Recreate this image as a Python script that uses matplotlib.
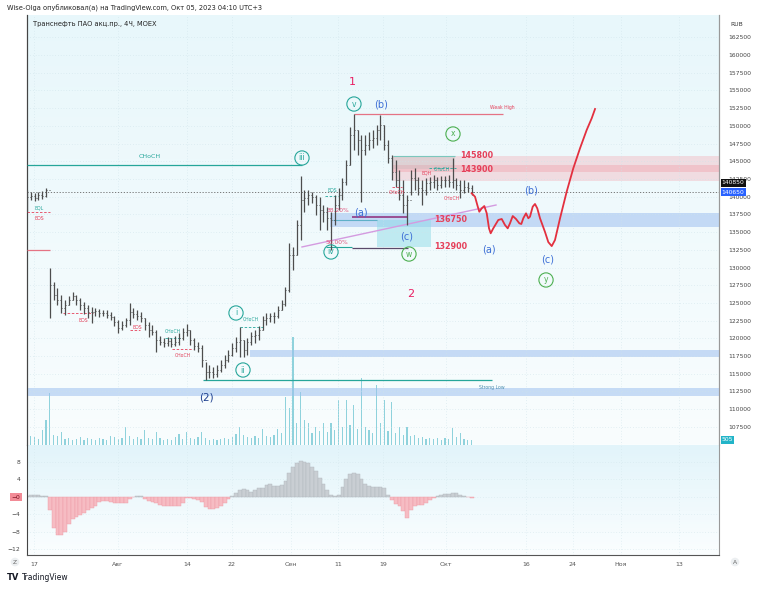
import numpy as np
import matplotlib.pyplot as plt
from matplotlib.patches import Rectangle
from matplotlib.colors import LinearSegmentedColormap
from matplotlib.transforms import blended_transform_factory

header = "Wise-Olga опубликовал(а) на TradingView.com, Окт 05, 2023 04:10 UTC+3"
symbol = "Транснефть ПАО акц.пр., 4Ч, MOEX"

# 4H bars, x in trading days from Jul 17
bar_start = -0.92
bar_step = 0.5
highs = [140940, 140660, 140520, 140660, 140800, 141220, 129930, 127950, 127110, 126120,
         125410, 125980, 126540, 126120, 125700, 125130, 124710, 124420, 124280, 124140,
         124000, 124000, 123720, 123150, 122590, 122450, 122870, 124990, 124280, 124000,
         123720, 122870, 122310, 121880, 121180, 120330, 120050, 120190, 120050, 120330,
         120750, 121460, 122030, 121180, 120050, 119480, 119060, 116660, 116240, 115960,
         116240, 116940, 117650, 118360, 119340, 120190, 121600, 119770, 120050, 120900,
         121180, 121740, 123150, 123580, 123580, 123720, 124570, 125410, 127250, 133460,
         132900, 136710, 142920, 140940, 140940, 140660, 140240, 139950, 138820, 138540,
         137840, 140240, 141220, 142640, 145180, 149840, 151670, 149410, 148710, 148710,
         149130, 149410, 150120, 151530, 150120, 148000, 145880, 145180, 143770, 142350,
         140240, 143770, 144050, 142780, 142350, 142640, 142780, 143060, 142780, 142920,
         142920, 143060, 145460, 142640, 142350, 142350, 142070, 141650]
lows = [137840, 139530, 139390, 139530, 139670, 139950, 122870, 125410, 124710, 123580,
        123300, 124710, 125410, 124710, 124000, 123440, 122870, 122170, 123150, 123010,
        123150, 122870, 122590, 121740, 120750, 121180, 121600, 121880, 122870, 122590,
        122310, 121180, 120190, 120470, 118070, 119060, 118780, 118920, 118780, 118920,
        119060, 119770, 120330, 119060, 118360, 118070, 115960, 114120, 114400, 114400,
        114540, 115250, 115810, 116660, 117510, 118070, 117370, 117370, 117650, 119060,
        119340, 119770, 121180, 121880, 122310, 122170, 122870, 124000, 124570, 126540,
        129650, 131770, 133880, 137840, 138820, 139110, 137410, 135300, 136420, 135300,
        132470, 136000, 138120, 139530, 141650, 144470, 146590, 145880, 139250, 145880,
        146590, 146870, 147300, 148000, 146590, 144750, 142350, 141370, 139530, 137700,
        136000, 140240, 140940, 140240, 138820, 140240, 140940, 141220, 140940, 141220,
        141370, 141370, 141220, 140940, 139810, 140520, 140660, 140240]
closes = [139950, 140090, 139810, 140240, 140090, 140940, 127530, 126120, 125410, 124280,
          124710, 125410, 125980, 125410, 124710, 124280, 123720, 123720, 123860, 123580,
          123580, 123300, 123010, 122310, 121460, 121880, 122590, 123720, 123440, 123150,
          122870, 121880, 121180, 120900, 119770, 119480, 119340, 119630, 119200, 119480,
          120050, 120900, 121180, 119770, 118920, 118640, 116940, 115250, 115250, 114970,
          115530, 116240, 116940, 117650, 118640, 119480, 119770, 118360, 119480, 120330,
          120470, 121180, 122590, 122870, 123150, 123150, 124000, 124850, 126830, 131770,
          131770, 136000, 139530, 139810, 140240, 139950, 138820, 138120, 137840, 136990,
          136710, 138820, 140240, 142070, 144470, 148710, 149410, 148000, 146590, 147300,
          148000, 148280, 149410, 150120, 147300, 145460, 143480, 142350, 140240, 138820,
          139530, 142640, 142350, 141220, 140940, 141930, 142070, 142350, 141650, 142350,
          142350, 142070, 142350, 141650, 140940, 141370, 141220, 140650]
volumes = [1300, 900, 800, 600, 1500, 2500, 5200, 1000, 900, 1300,
           600, 700, 500, 600, 800, 500, 700, 600, 500, 700,
           600, 500, 900, 800, 600, 700, 1800, 900, 600, 800,
           600, 1500, 700, 600, 1300, 700, 500, 600, 500, 800,
           1100, 600, 1300, 700, 600, 800, 1300, 700, 500, 600,
           500, 600, 700, 600, 800, 1100, 1800, 1000, 800, 700,
           900, 700, 1600, 900, 800, 1000, 1600, 1200, 4800, 3700,
           10800, 2200, 5300, 2500, 2200, 1200, 1800, 1400, 2200, 1300,
           2200, 1500, 4500, 1800, 4500, 2000, 4000, 1600, 6700, 1800,
           1500, 1200, 6000, 2200, 4500, 1400, 4300, 1200, 1800, 1000,
           1800, 900, 1000, 700, 800, 600, 700, 600, 700, 500,
           700, 600, 1700, 800, 1200, 600, 500, 505]
osc = [0.2, 0.3, 0.4, 0.3, 0.2, 0.1, -3.0, -7.0, -8.8, -8.8,
       -8.0, -6.2, -5.0, -4.5, -4.1, -3.7, -3.1, -2.6, -2.0, -1.2,
       -1.0, -1.0, -1.1, -1.4, -1.5, -1.5, -1.4, -0.6, -0.1, 0.1,
       0.1, -0.5, -1.0, -1.2, -1.3, -1.8, -2.2, -2.2, -2.2, -2.1,
       -2.0, -1.5, -0.3, -0.3, -0.6, -0.8, -1.2, -2.4, -2.8, -2.7,
       -2.5, -2.1, -1.3, -0.5, 0.2, 0.9, 1.5, 1.7, 1.5, 1.0,
       1.6, 2.0, 2.0, 2.8, 2.9, 2.5, 2.4, 2.8, 3.6, 5.5,
       6.8, 7.8, 8.1, 8.0, 7.6, 6.9, 5.8, 4.3, 3.0, 1.5,
       0.3, 0.1, 0.5, 2.3, 4.0, 5.2, 5.5, 5.1, 4.0, 2.9,
       2.4, 2.3, 2.3, 2.2, 2.0, 0.3, -0.8, -1.6, -2.2, -3.2,
       -4.8, -3.0, -2.0, -1.9, -1.9, -1.5, -0.8, -0.3, 0.1, 0.4,
       0.6, 0.7, 0.8, 0.8, 0.5, 0.1, -0.1, -0.2]

# projected wave path
path_x = [57.59, 58.03, 58.33, 58.59, 58.91, 59.25, 59.57, 59.87, 60.09, 60.43,
          61.09, 61.54, 61.97, 62.33, 62.63, 62.99, 63.42, 63.86, 64.12, 64.38,
          64.74, 65.04, 65.26, 65.62, 65.92, 66.22, 66.58, 67.24, 67.67, 68.12,
          68.55, 69.21, 70.09, 70.96, 71.84, 72.72, 73.38, 73.82]
path_p = [140470, 139990, 138820, 137870, 138350, 138680, 137650, 135530, 134830, 135530,
          136710, 136850, 136000, 135530, 136240, 137270, 136850, 136240, 136140, 136950,
          137650, 136950, 137170, 138590, 138970, 138350, 136950, 135010, 133590, 133020,
          133880, 136930, 140710, 144010, 146820, 149410, 151060, 152380]

xtick_pos = [0.0, 11.05, 20.13, 26.05, 33.82, 40.0, 45.92, 54.21, 64.74, 70.92, 77.24, 84.87]
xtick_labels = ["17", "Авг", "14", "22", "Сен", "11", "19", "Окт", "16", "24", "Ноя", "13"]

last_price = 140650
x_left, x_right = -0.92, 90.13
p_low, p_high = 104943, 165646

TEAL = "#26a69a"
GREEN = "#4caf50"
BLUE = "#3d6fd6"
PINK = "#e91e63"
RED = "#e5405a"

W, H = 758, 590


def frac(x0, y0, x1, y1):
    return [x0 / W, 1 - y1 / H, (x1 - x0) / W, (y1 - y0) / H]


def gradient(axis, top, bottom):
    cmap = LinearSegmentedColormap.from_list("bg", [bottom, top])
    grad = np.linspace(0, 1, 256).reshape(-1, 1)
    axis.imshow(grad, extent=[0, 1, 0, 1], transform=axis.transAxes, cmap=cmap,
                aspect="auto", origin="lower", zorder=0)


fig = plt.figure(figsize=(7.58, 5.90), dpi=100)
fig.patch.set_facecolor("white")

ax = fig.add_axes(frac(27, 15, 719, 445))
vax = ax.twinx()
osc_ax = fig.add_axes(frac(27, 445, 719, 555), sharex=ax)

ax.set_zorder(vax.get_zorder() + 1)
ax.patch.set_visible(False)
gradient(vax, "#e8f7fb", "#f9fdfe")
gradient(osc_ax, "#e2f4fa", "#fbfeff")

t = bar_start + bar_step * np.arange(len(closes))
opens = [closes[0]] + closes[:-1]

# volume
vax.bar(t, volumes, width=0.16, color="#8fd2dc", zorder=2)
vax.set_ylim(0, 43000)
vax.set_yticks([])


def zone(x0, x1, lo, hi, color, alpha, z=1):
    ax.add_patch(Rectangle((x0, lo), x1 - x0, hi - lo, facecolor=color, edgecolor="none",
                           alpha=alpha, zorder=z))


zone(47.2, x_right, 142250, 145800, "#f4a7b0", 0.35)
zone(47.2, x_right, 143500, 144450, "#f08a98", 0.3)
zone(47.2, 55.4, 143900, 145800, "#b8b8b8", 0.3)
zone(38.9, x_right, 135720, 137700, "#9ec0f0", 0.55)
zone(45.1, 52.2, 132900, 136710, "#8fdbe8", 0.5)
zone(28.4, x_right, 117370, 118360, "#9ec0f0", 0.55)
zone(x_left, x_right, 111900, 113030, "#9ec0f0", 0.55)

# horizontal levels
ax.hlines(144470, x_left, 35.26, color=TEAL, lw=0.9, zorder=3)
ax.hlines(151670, 42.1, 61.7, color="#e57384", lw=0.9, zorder=3)
ax.hlines(114120, 22.2, 60.3, color=TEAL, lw=0.9, zorder=3)
ax.hlines(132470, x_left, 2.1, color="#e57384", lw=0.9, zorder=3)
ax.hlines(145800, 47.2, 55.4, color="#7cc7bd", lw=0.8, zorder=3)
ax.hlines(136710, 39.3, 45.1, color="#5fb0c8", lw=0.8, zorder=3)
ax.hlines(132900, 38.4, 41.9, color=TEAL, lw=0.8, zorder=3)
ax.hlines(137130, 41.9, 49.2, color="#8e2a78", lw=1.1, zorder=3)
ax.hlines(132755, 41.9, 49.2, color="#5a4a6a", lw=0.9, zorder=3)
ax.plot([35.26, 60.79], [132900, 138820], color="#d49be0", lw=1.0, zorder=3)
ax.axhline(last_price, color="#666", lw=0.6, ls=(0, (1.5, 2)), zorder=3)

dashed = [(-0.92, 2.1, 137840, RED), (3.82, 7.76, 123580, RED), (12.6, 13.9, 121180, RED),
          (17.24, 19.2, 120050, TEAL), (18.2, 20.9, 118500, RED), (27.1, 30.13, 121600, TEAL),
          (38.3, 40.0, 140100, TEAL), (47.1, 48.4, 141360, RED), (52.0, 55.5, 144050, TEAL)]
for x0, x1, p, c in dashed:
    ax.hlines(p, x0, x1, color=c, lw=0.6, ls=(0, (3, 2)), zorder=3)

# OHLC bars
ax.vlines(t, lows, highs, color="#4d4d4d", lw=0.9, zorder=4)
ax.hlines(opens, t - 0.14, t, color="#4d4d4d", lw=0.7, zorder=4)
ax.hlines(closes, t, t + 0.14, color="#4d4d4d", lw=0.7, zorder=4)

ax.plot(path_x, path_p, color="#e3303f", lw=1.3, zorder=5)

# small structure labels
smc = [(0.66, 138400, "EQL", TEAL), (0.66, 136850, "BOS", RED), (6.45, 122450, "BOS", RED),
       (13.55, 121460, "BOS", RED), (18.29, 120900, "CHoCH", TEAL), (19.6, 117510, "CHoCH", RED),
       (28.55, 122590, "CHoCH", TEAL), (39.2, 140940, "BOS", TEAL), (47.76, 140520, "CHoCH", RED),
       (53.6, 143800, "CHoCH", TEAL), (51.7, 143400, "EQH", RED), (55.0, 139810, "CHoCH", RED),
       (61.6, 152560, "Weak High", RED), (60.3, 113130, "Strong Low", "#4e8fb0")]
for x, p, s, c in smc:
    ax.text(x, p, s, color=c, fontsize=3.3, ha="center", va="center", zorder=6)
ax.text(15.26, 145600, "CHoCH", color=TEAL, fontsize=4.5, ha="center", va="center", zorder=6)

ax.text(40.0, 137980, "38.20%", color="#e0507a", fontsize=4.3, ha="center", va="center", zorder=6)
ax.text(39.87, 133600, "50.00%", color="#e0507a", fontsize=4.3, ha="center", va="center", zorder=6)

# wave circles
circles = [(42.1, 153080, "v", TEAL), (35.26, 145460, "iii", TEAL), (39.08, 132190, "iv", TEAL),
           (26.58, 123580, "i", TEAL), (27.5, 115530, "ii", TEAL), (55.13, 148850, "x", GREEN),
           (49.34, 131900, "w", GREEN), (67.37, 128240, "y", GREEN)]
for x, p, s, c in circles:
    ax.scatter([x], [p], s=105, facecolors="none", edgecolors=c, linewidths=0.8, zorder=6)
    ax.text(x, p, s, color=c, fontsize=5.5, ha="center", va="center", zorder=6)

waves = [(45.66, 153080, "(b)"), (43.03, 137740, "(a)"), (49.08, 134350, "(c)"),
         (59.87, 132520, "(a)"), (65.39, 140940, "(b)"), (67.63, 131200, "(c)")]
for x, p, s in waves:
    ax.text(x, p, s, color=BLUE, fontsize=7, ha="center", va="center", zorder=6)
ax.text(22.63, 111580, "(2)", color="#1d3f8f", fontsize=7.5, ha="center", va="center", zorder=6)
ax.text(41.84, 156190, "1", color=PINK, fontsize=8, ha="center", va="center", zorder=6)
ax.text(49.6, 126260, "2", color=PINK, fontsize=8, ha="center", va="center", zorder=6)

levels = [(56.05, 145800, "145800"), (56.05, 143900, "143900"),
          (52.63, 136750, "136750"), (52.63, 132900, "132900")]
for x, p, s in levels:
    ax.text(x, p, s, color=RED, fontsize=5.8, weight="bold", ha="left", va="center", zorder=6)

ax.text(-0.1, 164350, symbol, fontsize=4.8, color="#222", ha="left", va="center", zorder=6)

# axes styling
ax.set_xlim(x_left, x_right)
ax.set_ylim(p_low, p_high)
vax.set_xlim(x_left, x_right)
ax.yaxis.tick_right()
ax.set_yticks(np.arange(107500, 162501, 2500))
ax.set_yticklabels([str(v) for v in range(107500, 162501, 2500)])
ax.tick_params(axis="y", length=0, labelsize=4.3, labelcolor="#444", pad=7)
ax.tick_params(axis="x", length=0, labelbottom=False)
ax.grid(True, color="#cfe3ea", lw=0.5, ls=(0, (1, 3)))
for sp in ("top", "bottom"):
    ax.spines[sp].set_visible(False)
    vax.spines[sp].set_visible(False)
ax.spines["left"].set_color("#444")
ax.spines["right"].set_color("#999")
vax.spines["left"].set_color("#444")
vax.spines["right"].set_color("#999")

tr = blended_transform_factory(ax.transAxes, ax.transData)
ax.text(1.004, 141950, "140850", transform=tr, fontsize=4.3, color="white", ha="left", va="center",
        bbox=dict(boxstyle="square,pad=0.2", fc="#111", ec="none"), zorder=7, clip_on=False)
ax.text(1.004, last_price, "140650", transform=tr, fontsize=4.3, color="white", ha="left", va="center",
        bbox=dict(boxstyle="square,pad=0.2", fc="#2962ff", ec="none"), zorder=7, clip_on=False)
vtr = blended_transform_factory(vax.transAxes, vax.transData)
vax.text(1.004, 505, "505", transform=vtr, fontsize=4.3, color="white", ha="left", va="center",
         bbox=dict(boxstyle="square,pad=0.2", fc="#22b4c8", ec="none"), zorder=7, clip_on=False)

# oscillator
osc_arr = np.array(osc)
colors = np.where(osc_arr >= 0, "#c9ced3", "#f6bcc3")
edges = np.where(osc_arr >= 0, "#b0b6bc", "#ee9aa5")
osc_ax.bar(t, osc_arr, width=bar_step, color=colors, edgecolor=edges, linewidth=0.3, zorder=2)
osc_ax.set_ylim(-13.26, 11.8)
osc_ax.set_yticks([8, 4, 0, -4, -8, -12])
osc_ax.set_yticklabels(["8", "4", "\u22120", "\u22124", "\u22128", "\u221212"])
osc_ax.tick_params(axis="y", length=0, labelsize=4.3, labelcolor="#444", pad=5)
for lab in osc_ax.get_yticklabels():
    if lab.get_text() == "\u22120":
        lab.set_bbox(dict(boxstyle="square,pad=0.25", fc="#f28b96", ec="none"))
        lab.set_color("#7a1020")
osc_ax.set_xticks(xtick_pos)
osc_ax.set_xticklabels(xtick_labels)
osc_ax.tick_params(axis="x", length=0, labelsize=4.5, labelcolor="#555", pad=5)
osc_ax.grid(True, color="#d3e6ec", lw=0.5, ls=(0, (1, 3)))
osc_ax.spines["top"].set_visible(False)
osc_ax.spines["left"].set_color("#444")
osc_ax.spines["right"].set_color("#999")
osc_ax.spines["bottom"].set_color("#555")
osc_ax.set_xlim(x_left, x_right)

fig.text(7 / W, 1 - 8 / H, header, fontsize=4.8, color="#222", ha="left", va="center")
fig.text(737 / W, 1 - 25 / H, "RUB", fontsize=4.3, color="#333", ha="center", va="center",
         bbox=dict(boxstyle="round,pad=0.35", fc="white", ec="none"))
fig.text(15 / W, 1 - 562 / H, "Z", fontsize=4.3, color="#666", ha="center", va="center",
         bbox=dict(boxstyle="circle,pad=0.3", fc="#eceff1", ec="none"))
fig.text(735 / W, 1 - 562 / H, "A", fontsize=4.3, color="#666", ha="center", va="center",
         bbox=dict(boxstyle="circle,pad=0.3", fc="#eceff1", ec="none"))
fig.text(7 / W, 1 - 578 / H, "TV", fontsize=6, weight="bold", color="#131722", ha="left", va="center")
fig.text(22 / W, 1 - 578 / H, "TradingView", fontsize=5.5, color="#131722", ha="left", va="center")

fig.savefig("out.png", dpi=100)
